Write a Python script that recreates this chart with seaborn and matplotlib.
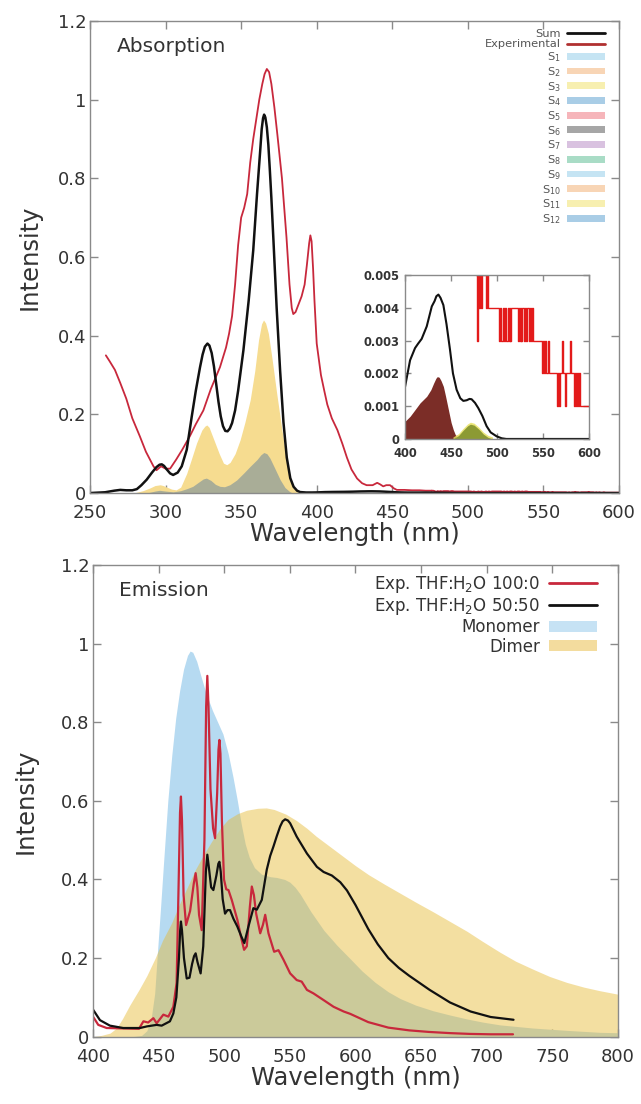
import numpy as np
import pandas as pd
import seaborn as sns
import matplotlib.pyplot as plt
from matplotlib.lines import Line2D
from matplotlib.patches import Patch

# ---------------- Absorption data ----------------
sum_wl = [250, 260, 266, 270, 274, 278, 281, 284, 287.5, 291, 294, 296, 297.5, 299, 300.8, 303,
          305, 308, 310.7, 314, 317.3, 320, 322.8, 324.5, 326, 327.7, 329, 330.5, 332, 333.5, 335,
          336.5, 338, 339.5, 341, 342.5, 344, 346, 348, 351.5, 355, 358, 360.5, 362.6, 363.6,
          364.5, 365.2, 366, 367, 368, 369, 370, 371.4, 373.5, 375.8, 378, 380.2, 382.5, 384.7,
          387, 389, 393, 397, 400, 405.4, 410.8, 414, 418, 423.5, 429, 432, 434, 436.2, 438.5,
          441.6, 445, 448.8, 452, 456, 460, 463.3, 467, 470, 472.3, 476, 479.6, 484, 488.6, 493,
          499.5, 505, 510, 600]
sum_int = [0.0, 0.002, 0.006, 0.008, 0.007, 0.007, 0.01, 0.02, 0.034, 0.052, 0.066, 0.072, 0.073,
           0.069, 0.06, 0.05, 0.046, 0.052, 0.068, 0.11, 0.194, 0.26, 0.32, 0.352, 0.372, 0.38,
           0.375, 0.356, 0.322, 0.277, 0.232, 0.195, 0.17, 0.158, 0.157, 0.164, 0.178, 0.21, 0.26,
           0.363, 0.49, 0.617, 0.76, 0.87, 0.925, 0.953, 0.962, 0.955, 0.93, 0.885, 0.82, 0.75,
           0.64, 0.47, 0.31, 0.18, 0.09, 0.038, 0.016, 0.006, 0.0025, 0.0014, 0.0014, 0.0016,
           0.0024, 0.00277, 0.0029, 0.00305, 0.00343, 0.00404, 0.0042, 0.00435, 0.0044, 0.0043,
           0.00408, 0.0035, 0.00272, 0.002, 0.0015, 0.00124, 0.00116, 0.00118, 0.00122, 0.00121,
           0.0011, 0.00094, 0.0007, 0.00039, 0.0002, 0.00008, 0.00002, 0.0, 0.0]

exp_wl = [260.5, 263, 266.5, 270, 274, 278, 283, 287, 292, 294, 297, 300, 303, 307, 311, 316, 320,
          325, 330, 336, 340, 342, 344, 346, 348, 350, 352, 354, 356, 358, 360, 362, 364, 365.5,
          367, 368.5, 370, 372, 374, 377, 380, 382, 383.5, 384.5, 386, 388, 390, 392, 393.5, 395,
          395.8, 396.6, 397.6, 398.5, 400, 402.8, 405, 407, 410, 413.7, 417, 420, 423, 426.7, 430,
          433, 437, 440, 442, 444, 446, 448.5, 451, 453, 458, 463, 468, 472, 476]
exp_int = [0.35, 0.335, 0.313, 0.28, 0.24, 0.19, 0.144, 0.105, 0.068, 0.058, 0.068, 0.062, 0.062,
           0.085, 0.11, 0.144, 0.175, 0.21, 0.265, 0.32, 0.37, 0.405, 0.45, 0.53, 0.63, 0.7, 0.725,
           0.76, 0.84, 0.9, 0.95, 1.0, 1.04, 1.065, 1.078, 1.07, 1.04, 0.98, 0.91, 0.8, 0.65, 0.53,
           0.47, 0.455, 0.46, 0.48, 0.5, 0.53, 0.58, 0.635, 0.655, 0.64, 0.57, 0.49, 0.38, 0.3,
           0.26, 0.225, 0.19, 0.16, 0.125, 0.09, 0.06, 0.037, 0.025, 0.02, 0.02, 0.026, 0.022,
           0.017, 0.02, 0.02, 0.012, 0.008, 0.008, 0.007, 0.007, 0.006, 0.006]

# noisy, quantised tail of the experimental spectrum (units of 1e-3), one value per nm
tail_wl = list(range(476, 601))
tail_milli = [6, 6, 5, 3, 5, 4, 5, 4, 5, 5, 5, 5, 4, 5, 5, 4, 4,
              4, 4, 4, 4, 4, 4, 4, 4, 4, 4,
              3, 4, 3, 3, 4, 3, 4, 3, 3, 4, 3, 4, 3, 4, 4, 4, 4, 4, 4, 4, 3, 4, 3, 4, 3, 4, 4, 3,
              4, 3, 4, 4, 3, 4, 3, 4, 4,
              3, 3, 3, 3, 3, 3, 3, 3, 3,
              2, 3, 3, 2, 3, 2, 2, 3, 2, 2, 2, 2, 2, 2, 2, 2, 2, 1, 2, 1, 2, 2, 3, 2, 2, 1, 2, 2,
              2, 2, 2, 3, 2, 2, 2, 1, 2, 1, 2, 1, 1, 2, 1, 1,
              1, 1, 1, 1, 1, 1, 1, 1]
tail_int = [v / 1000 for v in tail_milli]

yellow_wl = [278.7, 285, 289.7, 293, 296.4, 298.5, 300.8, 304, 307, 310, 314, 317, 320.5, 324,
             326, 327.3, 328.8, 330.5, 332.8, 335.5, 338.3, 340.5, 342.7, 346, 349.3, 352.5, 356,
             359, 361.5, 363.5, 364.8, 366.2, 368, 370.5, 373.5, 377, 380, 382.5, 384.5, 387, 389]
yellow_int = [0, 0.006, 0.013, 0.019, 0.021, 0.019, 0.015, 0.01, 0.008, 0.015, 0.05, 0.085, 0.127,
              0.16, 0.17, 0.173, 0.167, 0.15, 0.127, 0.1, 0.076, 0.072, 0.078, 0.1, 0.135, 0.18,
              0.237, 0.31, 0.389, 0.43, 0.44, 0.432, 0.406, 0.34, 0.254, 0.16, 0.085, 0.04, 0.013,
              0.004, 0]

grey_wl = [287, 289.7, 293, 296, 300, 305, 310, 314, 318, 322, 325, 327, 330, 333, 336, 339, 342.5,
           347, 351.5, 356, 360.5, 363, 365, 367, 369, 372, 375.8, 379, 382, 384]
grey_int = [0, 0.002, 0.005, 0.007, 0.005, 0.003, 0.006, 0.011, 0.017, 0.028, 0.036, 0.038, 0.032,
            0.022, 0.017, 0.016, 0.021, 0.033, 0.05, 0.068, 0.085, 0.097, 0.103, 0.1, 0.089, 0.065,
            0.034, 0.014, 0.004, 0]

# inset state bands
brown_wl = [400, 405.4, 411, 416.3, 423.5, 428, 431, 433.5, 435, 437, 439, 441.6, 444, 447, 450,
            452.4, 456, 460]
brown_int = [0.00054, 0.00069, 0.0009, 0.0011, 0.0013, 0.0015, 0.0017, 0.00185, 0.0019, 0.00188,
             0.00178, 0.0016, 0.0013, 0.0009, 0.0005, 0.00028, 0.00003, 0.0]
olive_wl = [452, 458, 463, 468, 471, 475, 480, 485, 490, 495]
olive_int = [0.0, 0.0001, 0.00026, 0.0004, 0.00045, 0.00042, 0.0003, 0.00015, 0.00005, 0.0]
low_wl = [400, 410, 420, 430, 440, 450, 460, 470]
low_int = [0.00012, 0.00018, 0.00015, 0.00012, 0.0002, 0.00015, 0.0001, 0.0]

state_labels = ["S$_{%d}$" % i for i in range(1, 13)]
state_colors = ["#c5e4f3", "#f8d5b5", "#f7efb0", "#a9cde6", "#f6b5ba", "#a6a6a6",
                "#d9c2e0", "#a9dcc6", "#c5e4f3", "#f8d5b5", "#f7efb0", "#a9cde6"]

# ---------------- Emission data ----------------
mono_wl = [430, 437, 441, 444.3, 447, 449, 451.5, 453.7, 457, 460, 463, 466, 469, 472, 474, 476,
           479, 482, 486, 491, 495, 499, 503, 506.7, 510, 513, 516, 519, 523, 528.5, 535, 540, 546,
           550, 554, 558, 566, 576, 586, 596, 605, 615, 625, 634, 646, 659, 672, 685, 697, 710, 735,
           761, 786, 800]
mono_int = [0, 0.003, 0.015, 0.046, 0.11, 0.21, 0.33, 0.44, 0.6, 0.715, 0.81, 0.88, 0.935, 0.97,
            0.981, 0.978, 0.955, 0.92, 0.875, 0.83, 0.8, 0.77, 0.72, 0.66, 0.6, 0.54, 0.49, 0.457,
            0.43, 0.413, 0.407, 0.405, 0.4, 0.393, 0.38, 0.362, 0.318, 0.27, 0.232, 0.198, 0.167,
            0.138, 0.114, 0.097, 0.08, 0.066, 0.055, 0.045, 0.037, 0.03, 0.022, 0.016, 0.011,
            0.01]

dimer_wl = [400, 405, 413, 418, 422.5, 428, 435, 441, 447.4, 453, 460, 466, 472.4, 478, 485, 491,
            497, 503, 510, 517, 525.4, 532, 538, 547, 555, 563, 570, 580, 590, 600, 610, 622, 634,
            646, 659, 672, 685, 697, 710, 722, 735, 748, 761, 774, 786, 800]
dimer_int = [0, 0.002, 0.009, 0.022, 0.046, 0.08, 0.119, 0.155, 0.2, 0.245, 0.29, 0.338, 0.384,
             0.425, 0.467, 0.5, 0.53, 0.553, 0.567, 0.576, 0.581, 0.582, 0.578, 0.566, 0.55, 0.53,
             0.51, 0.485, 0.46, 0.435, 0.412, 0.388, 0.365, 0.342, 0.318, 0.293, 0.268, 0.242,
             0.215, 0.192, 0.172, 0.153, 0.138, 0.126, 0.117, 0.108]

thf100_wl = [400, 404, 410.4, 422.5, 435, 438.4, 442, 446, 448.5, 453.6, 457.4, 461.2, 463.7,
             465.3, 466.3, 467, 467.8, 469, 470.9, 474, 476.8, 478.2, 479.5, 480.8, 482.8, 484.9,
             486.2, 487.1, 488, 489.5, 491.5, 493, 494.6, 495.6, 496.3, 497.1, 498.2, 499.8, 501.5,
             503.2, 505.7, 510, 513, 515.1, 517.2, 519.5, 521, 522.6, 524.3, 527.4, 529.5, 531.2,
             533.7, 538, 541.3, 545.1, 550.2, 555.2, 559, 563, 568, 575.7, 583.3, 591, 596, 609.7,
             625, 640.9, 656, 672, 687, 703, 720]
thf100_int = [0.051, 0.03, 0.022, 0.021, 0.02, 0.039, 0.036, 0.047, 0.034, 0.056, 0.051, 0.076,
              0.137, 0.4, 0.57, 0.611, 0.55, 0.36, 0.284, 0.32, 0.39, 0.416, 0.38, 0.31, 0.271,
              0.5, 0.84, 0.918, 0.84, 0.63, 0.53, 0.505, 0.62, 0.73, 0.755, 0.72, 0.55, 0.4, 0.375,
              0.373, 0.348, 0.297, 0.25, 0.221, 0.23, 0.33, 0.382, 0.36, 0.313, 0.263, 0.285, 0.31,
              0.263, 0.216, 0.22, 0.196, 0.161, 0.144, 0.14, 0.119, 0.11, 0.093, 0.076, 0.064, 0.058,
              0.037, 0.023, 0.016, 0.012, 0.009, 0.007, 0.006, 0.006]

thf50_wl = [400.2, 405.3, 412.9, 423, 435.8, 440.9, 448.5, 452.3, 458.6, 461.2, 463.5, 465.5,
            466.4, 467, 467.8, 469.3, 471.4, 473.5, 475.5, 477, 478.2, 479.6, 482, 484, 486,
            487.1, 488.3, 490, 491.7, 494, 495.5, 496.3, 497.3, 498.8, 500.6, 502.5, 504.4, 507,
            510, 513, 515.3, 518.4, 522.2, 524.8, 528.6, 532.4, 535, 537.5, 540, 542.6, 544.5,
            546.4, 548.5, 550.2, 555.2, 563, 570.6, 575.7, 582, 588.4, 593.5, 600, 609.7, 617, 625,
            633, 640.9, 656.5, 672, 687.7, 703, 720.4]
thf50_int = [0.068, 0.042, 0.028, 0.022, 0.022, 0.026, 0.03, 0.028, 0.039, 0.059, 0.1, 0.2, 0.27,
             0.293, 0.27, 0.2, 0.148, 0.15, 0.185, 0.205, 0.212, 0.19, 0.161, 0.23, 0.42, 0.463,
             0.43, 0.38, 0.373, 0.41, 0.44, 0.445, 0.42, 0.35, 0.313, 0.322, 0.322, 0.3, 0.28,
             0.255, 0.238, 0.28, 0.327, 0.323, 0.348, 0.425, 0.46, 0.484, 0.51, 0.535, 0.548, 0.553,
             0.55, 0.543, 0.509, 0.466, 0.432, 0.419, 0.41, 0.393, 0.372, 0.335, 0.274, 0.235,
             0.2, 0.175, 0.155, 0.119, 0.087, 0.064, 0.05, 0.043]

# ---------------- style ----------------
sns.set_theme(style="ticks")
plt.rcParams["font.family"] = ["DejaVu Sans"]
plt.rcParams["axes.edgecolor"] = "#8a8a8a"
plt.rcParams["axes.linewidth"] = 1.0
plt.rcParams["xtick.direction"] = "in"
plt.rcParams["ytick.direction"] = "in"
plt.rcParams["xtick.color"] = "#8a8a8a"
plt.rcParams["ytick.color"] = "#8a8a8a"
plt.rcParams["xtick.labelcolor"] = "#333333"
plt.rcParams["ytick.labelcolor"] = "#333333"

RED = "#c8283c"
BLACK = "#111111"
TXT = "#333333"
yticks = [0, 0.2, 0.4, 0.6, 0.8, 1.0, 1.2]
ylabels = ["0", "0.2", "0.4", "0.6", "0.8", "1", "1.2"]

fig = plt.figure(figsize=(6.41, 11.04), dpi=100)
ax1 = fig.add_axes([0.1404, 0.5534, 0.8253, 0.4276])
ax2 = fig.add_axes([0.1451, 0.0610, 0.8190, 0.4272])
axin = fig.add_axes([0.632, 0.6024, 0.287, 0.1486])


def style_axes(ax, size=13, length=6, xpad=8, ypad=2.5):
    ax.tick_params(top=True, right=True, labelsize=size, length=length, width=1)
    ax.tick_params(axis="x", pad=xpad)
    ax.tick_params(axis="y", pad=ypad)
    for s in ax.spines.values():
        s.set_visible(True)


# ---------------- absorption ----------------
ax1.fill_between(yellow_wl, yellow_int, color="#f6dc90", lw=0)
ax1.fill_between(grey_wl, grey_int, color="#a9ad97", lw=0)
sns.lineplot(x=exp_wl, y=exp_int, ax=ax1, color=RED, lw=1.3, legend=False)
sns.lineplot(x=tail_wl, y=tail_int, ax=ax1, color=RED, lw=1.3, legend=False)
sns.lineplot(x=sum_wl, y=sum_int, ax=ax1, color=BLACK, lw=1.8, legend=False)
ax1.set_xlim(250, 600)
ax1.set_ylim(0, 1.2)
ax1.set_xticks([250, 300, 350, 400, 450, 500, 550, 600])
ax1.set_yticks(yticks)
ax1.set_yticklabels(ylabels)
style_axes(ax1)
ax1.set_xlabel("Wavelength (nm)", fontsize=17.5, color=TXT, labelpad=0)
ax1.set_ylabel("Intensity", fontsize=17.5, color=TXT)
ax1.yaxis.set_label_coords(-0.091, 0.5)
ax1.text(0.051, 0.945, "Absorption", transform=ax1.transAxes, fontsize=14.5, color=TXT,
         va="center", ha="left")

handles = [Line2D([], [], color=BLACK, lw=2), Line2D([], [], color="#b03030", lw=2)]
handles += [Patch(facecolor=c, edgecolor="none") for c in state_colors]
labels = ["Sum", "Experimental"] + state_labels
leg = ax1.legend(handles, labels, loc="upper right", bbox_to_anchor=(0.9735, 0.984),
                 frameon=False, markerfirst=False, fontsize=8.2, handlelength=3.3,
                 handleheight=0.55, labelspacing=0.08, handletextpad=0.6, borderpad=0,
                 borderaxespad=0)
for t in leg.get_texts():
    t.set_color("#555555")
    t.set_ha("right")

# inset
axin.fill_between(low_wl, low_int, color="#e8b08a", lw=0, alpha=0.8)
axin.fill_between(brown_wl, brown_int, color="#7b2d27", lw=0)
axin.fill_between(olive_wl, [v + 0.00006 for v in olive_int], color="#e6e05a", lw=0, alpha=0.8)
axin.fill_between(olive_wl, olive_int, color="#8c9a34", lw=0)
sns.lineplot(x=exp_wl, y=exp_int, ax=axin, color="#e31a1a", lw=1, legend=False)
sns.lineplot(x=tail_wl, y=tail_int, ax=axin, color="#e31a1a", lw=1, legend=False,
             drawstyle="steps-mid")
sns.lineplot(x=sum_wl, y=sum_int, ax=axin, color=BLACK, lw=1.5, legend=False)
axin.set_xlim(400, 600)
axin.set_ylim(0, 0.005)
axin.set_xticks([400, 450, 500, 550, 600])
axin.set_yticks([0, 0.001, 0.002, 0.003, 0.004, 0.005])
axin.set_yticklabels(["0", "0.001", "0.002", "0.003", "0.004", "0.005"])
style_axes(axin, size=8.3, length=4, xpad=6, ypad=4)
for lab in axin.get_xticklabels() + axin.get_yticklabels():
    lab.set_fontweight("bold")

# ---------------- emission ----------------
ax2.fill_between(mono_wl, mono_int, color="#b6daf1", lw=0)
sns.lineplot(x=thf100_wl, y=thf100_int, ax=ax2, color=RED, lw=1.6, legend=False)
sns.lineplot(x=thf50_wl, y=thf50_int, ax=ax2, color=BLACK, lw=1.6, legend=False)
ax2.fill_between(dimer_wl, dimer_int, color="#e6b830", lw=0, alpha=0.45)
ax2.set_xlim(400, 800)
ax2.set_ylim(0, 1.2)
ax2.set_xticks([400, 450, 500, 550, 600, 650, 700, 750, 800])
ax2.set_yticks(yticks)
ax2.set_yticklabels(ylabels)
style_axes(ax2)
ax2.set_xlabel("Wavelength (nm)", fontsize=17.5, color=TXT, labelpad=0)
ax2.set_ylabel("Intensity", fontsize=17.5, color=TXT)
ax2.yaxis.set_label_coords(-0.105, 0.5)
ax2.text(0.0495, 0.946, "Emission", transform=ax2.transAxes, fontsize=14.5, color=TXT,
         va="center", ha="left")

handles2 = [Line2D([], [], color=RED, lw=2), Line2D([], [], color=BLACK, lw=2),
            Patch(facecolor="#c6e2f4", edgecolor="none"),
            Patch(facecolor="#f3dc9e", edgecolor="none")]
labels2 = ["Exp. THF:H$_2$O 100:0", "Exp. THF:H$_2$O 50:50", "Monomer", "Dimer"]
leg2 = ax2.legend(handles2, labels2, loc="upper right", bbox_to_anchor=(0.96, 0.982),
                  frameon=False, markerfirst=False, fontsize=12, handlelength=2.9,
                  handleheight=0.6, labelspacing=0.08, handletextpad=0.5, borderpad=0,
                  borderaxespad=0)
for t in leg2.get_texts():
    t.set_color(TXT)
    t.set_ha("right")

fig.savefig("out.png", dpi=100)
